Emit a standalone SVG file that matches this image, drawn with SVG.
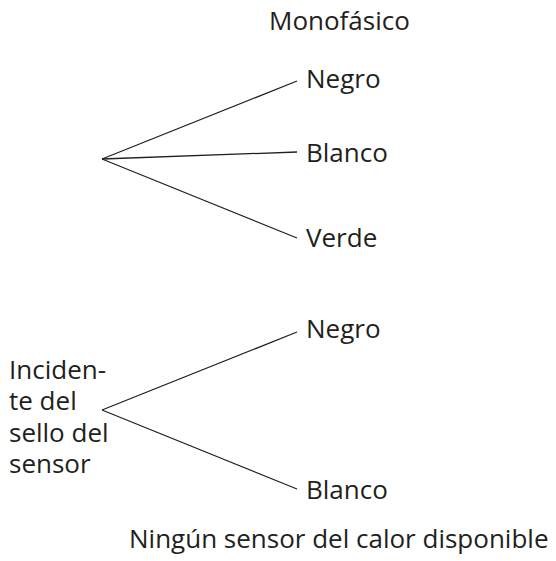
<svg xmlns="http://www.w3.org/2000/svg" width="556" height="561" viewBox="0 0 556 561">
<style>
text{font-family:"Open Sans","Lato","Liberation Sans",sans-serif;font-size:26px;fill:#231f20}
.c line{stroke:#231f20;stroke-width:1.3;fill:none}
</style>
<rect width="556" height="561" fill="#fff"/>
<g id="title1"><text x="269" y="30">Monofásico</text></g>
<g id="n1"><text x="306" y="88">Negro</text></g>
<g id="n2"><text x="306" y="162">Blanco</text></g>
<g id="n3"><text x="306" y="247">Verde</text></g>
<g id="src2"><text x="9" y="379">Inciden-</text><text x="9" y="410">te del</text><text x="9" y="442">sello del</text><text x="9" y="473">sensor</text></g>
<g id="n4"><text x="306" y="338">Negro</text></g>
<g id="n5"><text x="306" y="499">Blanco</text></g>
<g id="title2"><text x="129" y="548">Ningún sensor del calor disponible</text></g>
<g class="c" id="connectors">
<line x1="102" y1="159" x2="297" y2="81"/>
<line x1="102" y1="159" x2="297" y2="152"/>
<line x1="102" y1="159" x2="297" y2="238"/>
<line x1="102" y1="410" x2="297" y2="332"/>
<line x1="102" y1="410" x2="297" y2="489"/>
</g>
</svg>
